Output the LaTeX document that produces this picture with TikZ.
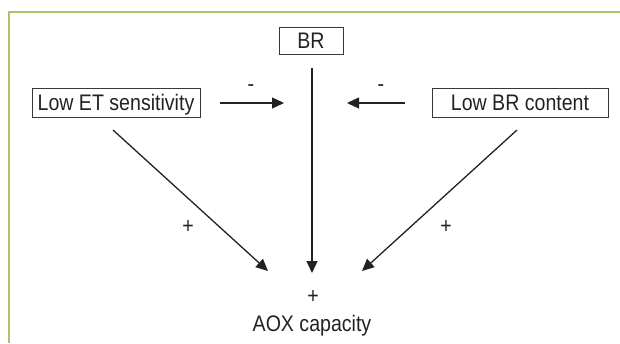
\documentclass[tikz,border=0pt]{standalone}
\usepackage{fontspec}
\setmainfont{Liberation Sans}[FakeStretch=0.87]
\usetikzlibrary{arrows.meta}
\definecolor{frame}{HTML}{A9C56B}
\definecolor{ink}{HTML}{222222}
\tikzset{
  boxnode/.style={draw=ink!90, line width=1pt, inner sep=0pt, text=ink,
    font=\fontsize{22.5}{24}\selectfont, text height=16pt, text depth=0pt},
  lbl/.style={inner sep=0pt, text=ink, font=\fontsize{22.5}{24}\selectfont},
  arr/.style={draw=ink, line width=1.3pt, -{Triangle[length=12pt,width=11pt]}},
  plainline/.style={draw=ink, line width=1.3pt}
}
\begin{document}
\begin{tikzpicture}[x=1pt,y=-1pt]
\useasboundingbox (0,0) rectangle (620,343);
\draw[frame, line width=2pt] (8.5,343) -- (8.5,12) -- (620,12);

\node[boxnode, minimum width=64pt, minimum height=27pt] (br) at (311,40.5) {BR};
\node[boxnode, minimum width=168pt, minimum height=29pt] (let) at (116,102.5) {Low ET sensitivity};
\node[boxnode, minimum width=176pt, minimum height=29pt] (lbr) at (520,102.5) {Low BR content};

\coordinate (la1) at (220,103);
\coordinate (la2) at (284,103);
\coordinate (ra1) at (405,103);
\coordinate (ra2) at (347,103);
\coordinate (v1) at (312,68);
\coordinate (v2) at (312,273);
\coordinate (d1) at (113,130);
\coordinate (d2) at (268,271);
\coordinate (e1) at (517,130);
\coordinate (e2) at (362,271);

\draw[arr] (la1) -- (la2);
\draw[arr] (ra1) -- (ra2);
\draw[arr] (v1) -- (v2);
\draw[arr] (d1) -- (d2);
\draw[arr] (e1) -- (e2);

\node[lbl] (m1) at (251,88) {-};
\node[lbl] (m2) at (381,88) {-};
\node[lbl] (p1) at (188,227) {+};
\node[lbl] (p2) at (446,227) {+};
\node[lbl] (p3) at (313,297) {+};
\node[lbl, anchor=base] (aox) at (312,331) {AOX capacity};
\end{tikzpicture}
\end{document}
